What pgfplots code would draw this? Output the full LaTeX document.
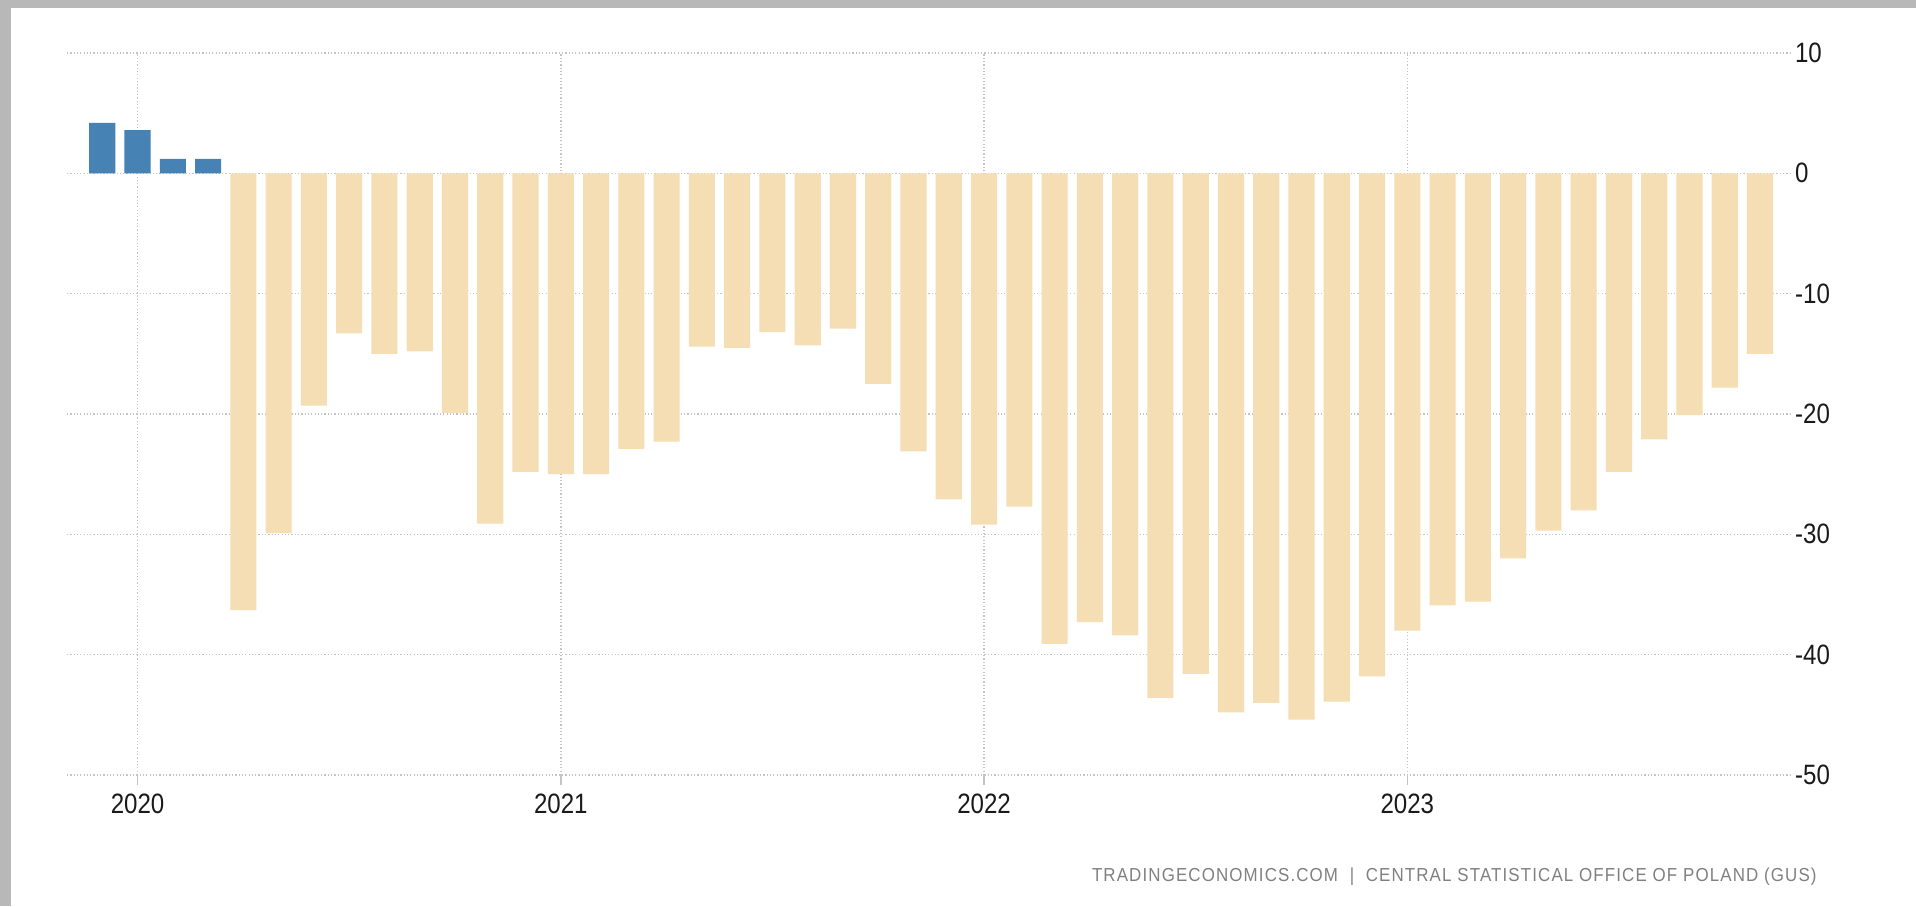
\documentclass[border=0pt]{standalone}
\usepackage{fontspec}
\setmainfont{Liberation Sans}[FakeStretch=0.86]
\newfontfamily\srcfont{Liberation Sans}[FakeStretch=0.9, LetterSpace=6]
\usepackage{pgfplots}
\pgfplotsset{compat=1.18}
\definecolor{frame}{HTML}{B8B8B8}
\definecolor{posbar}{HTML}{4682B4}
\definecolor{negbar}{HTML}{F5DEB3}
\definecolor{gridc}{HTML}{C4C4C4}
\definecolor{labc}{HTML}{1A1A1A}
\definecolor{srcc}{HTML}{808080}
\begin{document}
\begin{tikzpicture}
\fill[frame] (0pt,0pt) rectangle (958pt,453pt);
\fill[white] (5.5pt,0pt) rectangle (958pt,449pt);
\begin{axis}[
  at={(33.5pt,65.5pt)}, anchor=south west,
  scale only axis, width=861.5pt, height=361pt,
  xmin=-2.0, xmax=46.85, ymin=-50, ymax=10,
  axis line style={draw=none},
  ytick={-50,-40,-30,-20,-10,0,10},
  yticklabels={-50,-40,-30,-20,-10,0,10},
  xtick={0,12,24,36},
  xticklabels={2020,2021,2022,2023},
  yticklabel pos=right,
  ymajorgrids, xmajorgrids,
  major grid style={gridc, line width=0.7pt, dash pattern=on 0.6pt off 1.05pt},
  tick style={draw=none},
  ticklabel style={font=\fontsize{14}{16}\selectfont, text=labc},
  yticklabel style={anchor=west, xshift=-1pt},
  xticklabel style={yshift=-6pt},
  clip=false,
]
\addplot[ybar, bar width=0.74, bar shift=0pt, fill=posbar, draw=none] coordinates {
(-1,4.2) (0,3.6) (1,1.2) (2,1.2)
};
\addplot[ybar, bar width=0.74, bar shift=0pt, fill=negbar, draw=none] coordinates {
(3,-36.3) (4,-29.9) (5,-19.3) (6,-13.3) (7,-15.0) (8,-14.8) (9,-19.9) (10,-29.1)
(11,-24.8) (12,-25.0) (13,-25.0) (14,-22.9) (15,-22.3) (16,-14.4) (17,-14.5)
(18,-13.2) (19,-14.3) (20,-12.9) (21,-17.5) (22,-23.1) (23,-27.1) (24,-29.2)
(25,-27.7) (26,-39.1) (27,-37.3) (28,-38.4) (29,-43.6) (30,-41.6) (31,-44.8)
(32,-44.0) (33,-45.4) (34,-43.9) (35,-41.8) (36,-38.0) (37,-35.9) (38,-35.6)
(39,-32.0) (40,-29.7) (41,-28.0) (42,-24.8) (43,-22.1) (44,-20.1) (45,-17.8)
(46,-15.0)
};
\foreach \t in {0,12,24,36} {
  \edef\tmp{\noexpand\draw[gridc, line width=0.7pt] (axis cs:\t,-50) -- ++(0pt,-5pt);}
  \tmp
}
\end{axis}
\node[anchor=base east, text=srcc, font=\srcfont\fontsize{9.4}{11}\selectfont, inner sep=0pt]
  at (908.5pt,12.5pt) {TRADINGECONOMICS.COM \ | \ CENTRAL\ STATISTICAL\ OFFICE\ OF\ POLAND\ (GUS)};
\end{tikzpicture}
\end{document}
